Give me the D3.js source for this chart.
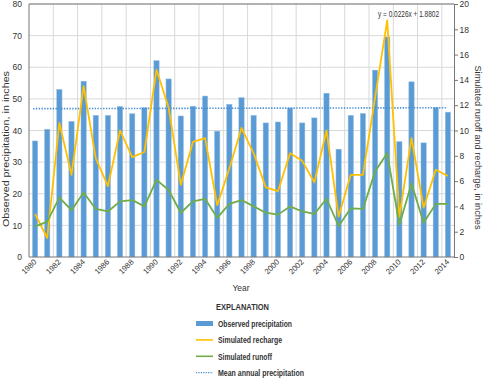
<!DOCTYPE html>
<html><head><meta charset="utf-8">
<script src="https://cdn.jsdelivr.net/npm/d3@7"></script>
<style>
body{margin:0;background:#fff;}
text{font-family:"Liberation Sans Narrow","Arial Narrow","Liberation Sans",sans-serif;fill:#333;}
</style></head>
<body><svg id="c" width="484" height="378"></svg>
<script>
const years = [1980,1981,1982,1983,1984,1985,1986,1987,1988,1989,1990,1991,1992,1993,1994,1995,1996,1997,1998,1999,2000,2001,2002,2003,2004,2005,2006,2007,2008,2009,2010,2011,2012,2013,2014];
const precipitation = [36.7,40.4,53.0,42.9,55.6,44.8,44.8,47.6,45.3,47.2,62.1,56.3,44.6,47.7,50.9,39.8,48.3,50.4,44.8,42.4,42.7,47.1,42.4,44.0,51.8,34.1,44.8,45.4,59.1,69.6,36.5,55.4,36.1,47.3,45.8];
const recharge = [3.4,1.5,10.6,6.5,13.5,7.8,5.6,10.0,7.9,8.3,14.8,11.8,5.7,9.1,9.4,4.1,7.0,10.2,8.2,5.5,5.2,8.2,7.6,5.9,10.0,3.2,6.5,6.5,12.6,18.7,3.2,9.4,3.9,6.9,6.4];
const runoff = [2.4,2.8,4.7,3.7,5.1,3.8,3.6,4.4,4.5,4.0,6.1,5.3,3.5,4.4,4.6,3.1,4.2,4.5,4.0,3.5,3.35,4.0,3.6,3.4,4.6,2.45,3.85,3.8,6.75,8.2,2.55,5.8,2.7,4.2,4.2];
const meanYears = [1980, 2014];
const meanPrecip = [46.9, 47.2];
const leftTicks = [0,10,20,30,40,50,60,70,80];
const rightTicks = [0,2,4,6,8,10,12,14,16,18,20];
const xTickYears = [1980,1982,1984,1986,1988,1990,1992,1994,1996,1998,2000,2002,2004,2006,2008,2010,2012,2014];
const equation = "y = 0.0226x + 1.8802";

const svg = d3.select("#c");
const L = 29, R = 454, T = 4, B = 257;
const x = d3.scaleBand().domain(years).range([L, R]).paddingInner(0.56).paddingOuter(0.28);
const step = (R - L) / years.length;
const cx = d => L + step * (years.indexOf(d) + 0.5);
const yL = d3.scaleLinear().domain([0, 80]).range([B, T]);
const yR = d3.scaleLinear().domain([0, 20]).range([B, T]);

// horizontal gridlines
svg.append("g").selectAll("line").data(leftTicks.slice(1)).join("line")
  .attr("x1", L).attr("x2", R).attr("y1", d => yL(d)).attr("y2", d => yL(d))
  .attr("stroke", "#d9d9d9").attr("stroke-width", 1);
// vertical gridlines every 2 categories
const vg = d3.range(2, years.length, 2);
svg.append("g").selectAll("line").data(vg).join("line")
  .attr("x1", k => L + step * k).attr("x2", k => L + step * k)
  .attr("y1", T).attr("y2", B).attr("stroke", "#d9d9d9").attr("stroke-width", 1);

// bars
svg.append("g").selectAll("rect").data(years).join("rect")
  .attr("x", d => cx(d) - x.bandwidth() / 2).attr("width", x.bandwidth())
  .attr("y", (d, i) => yL(precipitation[i])).attr("height", (d, i) => B - yL(precipitation[i]))
  .attr("fill", "#5b9bd5").attr("stroke", "#9dc3e6").attr("stroke-width", 0.5);

// mean line
svg.append("path").datum(meanYears.map((yr, i) => [cx(yr) - 2, yL(meanPrecip[i])]))
  .attr("d", d3.line()).attr("fill", "none").attr("stroke", "#4a8fd4")
  .attr("stroke-width", 1.6).attr("stroke-dasharray", "1.4,1.4");

// lines
const line = d3.line().x(d => d[0]).y(d => d[1]);
svg.append("path").datum(years.map((yr, i) => [cx(yr), yR(recharge[i])]))
  .attr("d", line).attr("fill", "none").attr("stroke", "#ffc000").attr("stroke-width", 1.8).attr("stroke-linejoin", "round");
svg.append("path").datum(years.map((yr, i) => [cx(yr), yR(runoff[i])]))
  .attr("d", line).attr("fill", "none").attr("stroke", "#70ad47").attr("stroke-width", 1.8).attr("stroke-linejoin", "round");

// frame
svg.append("line").attr("x1", L).attr("x2", R).attr("y1", T).attr("y2", T).attr("stroke", "#777").attr("stroke-width", 1);
svg.append("line").attr("x1", L).attr("x2", L).attr("y1", T).attr("y2", B).attr("stroke", "#777").attr("stroke-width", 1);
svg.append("line").attr("x1", L).attr("x2", R).attr("y1", B).attr("y2", B).attr("stroke", "#777").attr("stroke-width", 1);

// left axis
const la = svg.append("g").attr("transform", `translate(${L},0)`)
  .call(d3.axisLeft(yL).tickValues(leftTicks).tickSize(0).tickPadding(7));
la.select(".domain").remove();
la.selectAll("text").attr("font-size", 8.5).attr("fill", "#333").style("font-family", '"Liberation Sans",sans-serif');

// right axis
const ra = svg.append("g").attr("transform", `translate(${R},0)`)
  .call(d3.axisRight(yR).tickValues(rightTicks).tickSize(4).tickPadding(1.5));
ra.select(".domain").attr("stroke", "#777");
ra.selectAll(".tick line").attr("stroke", "#777");
ra.selectAll("text").attr("font-size", 8.5).attr("fill", "#333").style("font-family", '"Liberation Sans",sans-serif');

// x tick labels
svg.append("g").selectAll("text").data(xTickYears).join("text")
  .attr("transform", d => `translate(${cx(d) + 2},${B + 5.5}) rotate(-45)`)
  .attr("text-anchor", "end").attr("font-size", 7.8).text(d => d);

// axis titles
svg.append("text").attr("x", 241).attr("y", 291).attr("text-anchor", "middle").attr("font-size", 9.5)
  .attr("textLength", 17).attr("lengthAdjust", "spacingAndGlyphs").text("Year");
svg.append("text").attr("transform", `translate(9,149) rotate(-90)`).attr("text-anchor", "middle").attr("font-size", 9.2)
  .attr("textLength", 156).attr("lengthAdjust", "spacingAndGlyphs").text("Observed precipitation, in inches");
svg.append("text").attr("transform", `translate(475,147.5) rotate(90)`).attr("text-anchor", "middle").attr("font-size", 9.2)
  .attr("textLength", 164).attr("lengthAdjust", "spacingAndGlyphs").text("Simulated runoff and recharge, in inches");

// equation
svg.append("text").attr("x", 378).attr("y", 17).attr("font-size", 8.5)
  .attr("textLength", 61).attr("lengthAdjust", "spacingAndGlyphs").text(equation);

// legend
const lg = svg.append("g");
lg.append("text").attr("x", 216).attr("y", 310).attr("font-size", 9.5).attr("font-weight", "bold")
  .attr("textLength", 53).attr("lengthAdjust", "spacingAndGlyphs").text("EXPLANATION");
const items = [
  {label: "Observed precipitation", type: "bar", color: "#5b9bd5", w: 74},
  {label: "Simulated recharge", type: "line", color: "#ffc000", w: 64},
  {label: "Simulated runoff", type: "line", color: "#70ad47", w: 54},
  {label: "Mean annual precipitation", type: "dot", color: "#4a8fd4", w: 86}
];
items.forEach((it, i) => {
  const yy = 323.5 + i * 16.4;
  if (it.type === "bar") lg.append("rect").attr("x", 196).attr("y", yy - 2.5).attr("width", 17).attr("height", 5).attr("fill", it.color);
  else lg.append("line").attr("x1", 196).attr("x2", 213).attr("y1", yy).attr("y2", yy)
      .attr("stroke", it.color).attr("stroke-width", it.type === "dot" ? 1.2 : 1.6)
      .attr("stroke-dasharray", it.type === "dot" ? "1.2,1.2" : null);
  lg.append("text").attr("x", 218).attr("y", yy + 3.2).attr("font-size", 9).attr("font-weight", "bold")
    .attr("textLength", it.w).attr("lengthAdjust", "spacingAndGlyphs").text(it.label);
});
</script></body></html>
